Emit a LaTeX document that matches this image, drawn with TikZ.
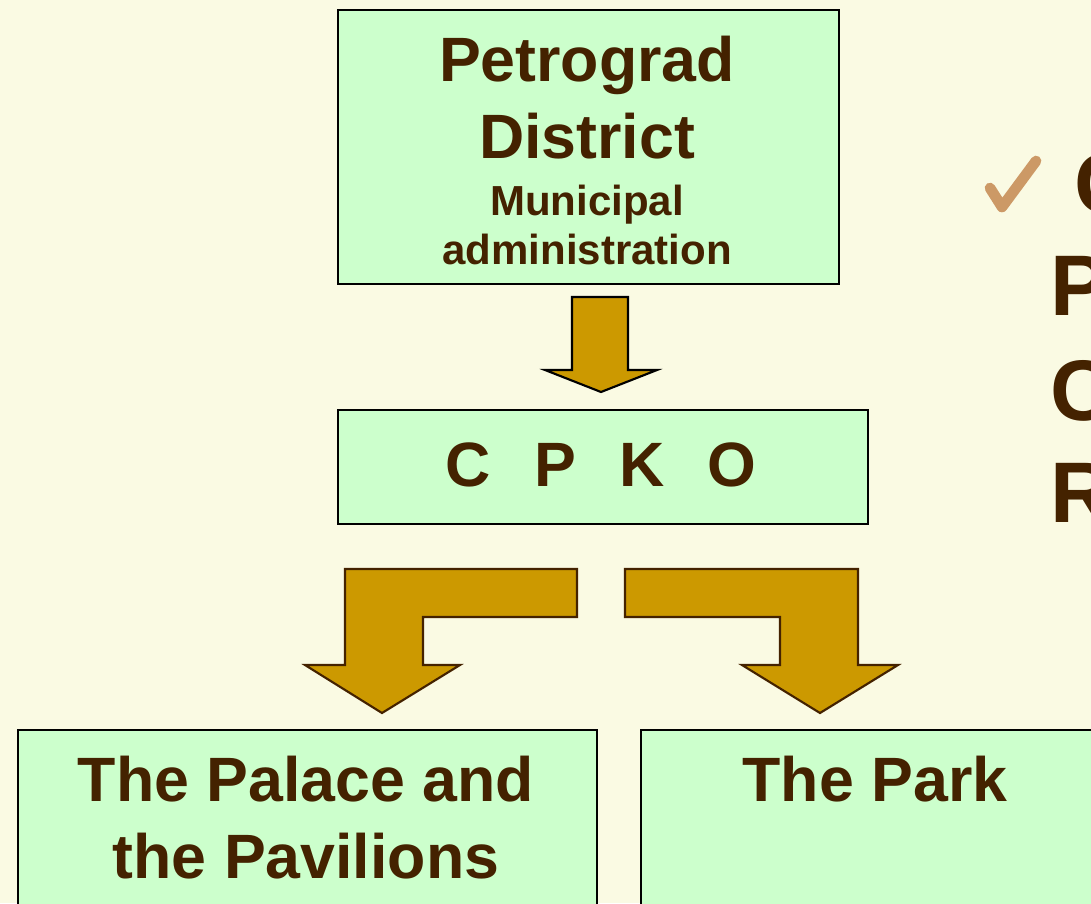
\documentclass[tikz,border=0pt]{standalone}
\usepackage{fontspec}
\setmainfont{Liberation Sans}
\definecolor{bg}{HTML}{FAFAE3}
\definecolor{boxfill}{HTML}{CCFFCC}
\definecolor{txt}{HTML}{442200}
\definecolor{arrowfill}{HTML}{CC9900}
\definecolor{checkcol}{HTML}{CC9966}
\begin{document}
\begin{tikzpicture}[x=0.75pt,y=-0.75pt,
  box/.style={draw=black, line width=1.3pt, fill=boxfill, anchor=north west, inner sep=0pt},
  bigtxt/.style={text=txt, font=\bfseries\fontsize{47}{56}\selectfont, anchor=base, inner sep=0pt},
  smalltxt/.style={text=txt, font=\bfseries\fontsize{31.5}{38}\selectfont, anchor=base, inner sep=0pt},
  sidetxt/.style={text=txt, font=\bfseries\fontsize{64.5}{77}\selectfont, anchor=base west, inner sep=0pt},
  blockarrow/.style={fill=arrowfill, draw=txt, line width=1.6pt, line join=miter},
  blockarrowdark/.style={fill=arrowfill, draw=black, line width=1.6pt, line join=miter}]
\useasboundingbox (0,0) rectangle (1091,903);
\clip (0,0) rectangle (1091,903);
\fill[bg] (0,0) rectangle (1091,903);

% boxes
\node[box, minimum width=375.75pt, minimum height=205.5pt] (b1) at (337,9) {};
\node[box, minimum width=397.5pt, minimum height=85.5pt] (b2) at (337,409) {};
\node[box, minimum width=434.25pt, minimum height=139.5pt] (b3) at (17,729) {};
\node[box, minimum width=345pt, minimum height=139.5pt] (b4) at (640,729) {};

% texts
\node[bigtxt] (t1) at (587,81) {Petrograd};
\node[bigtxt] (t2) at (587,158) {District};
\node[smalltxt] (t3) at (587,215) {Municipal};
\node[smalltxt] (t4) at (587,264) {administration};
\node[bigtxt] (t5) at (601,486) {{\spaceskip=0.69em C P K O}};
\node[bigtxt] (t6) at (306,801) {The Palace and};
\node[bigtxt] (t7) at (306,878) {the Pavilions};
\node[bigtxt] (t8) at (875,801) {The Park};

% block arrows
\draw[blockarrowdark] (572,297) -- (628,297) -- (628,370) -- (657,370) -- (601,392) -- (545,370) -- (572,370) -- cycle;
\draw[blockarrow] (577,569) -- (577,617) -- (423,617) -- (423,665) -- (460,665) -- (382,713) -- (305,665) -- (345,665) -- (345,569) -- cycle;
\draw[blockarrow] (625,569) -- (858,569) -- (858,665) -- (898,665) -- (820,713) -- (742,665) -- (780,665) -- (780,617) -- (625,617) -- cycle;

% side text with check mark
\draw[checkcol, line width=8pt, line cap=round, line join=round] (990,188) -- (1002,207) -- (1036,161);
\node[sidetxt] (s1) at (1074,213) {C};
\node[sidetxt] (s2) at (1050,315) {P};
\node[sidetxt] (s3) at (1050,420) {C};
\node[sidetxt] (s4) at (1050,522) {R};
\end{tikzpicture}
\end{document}
